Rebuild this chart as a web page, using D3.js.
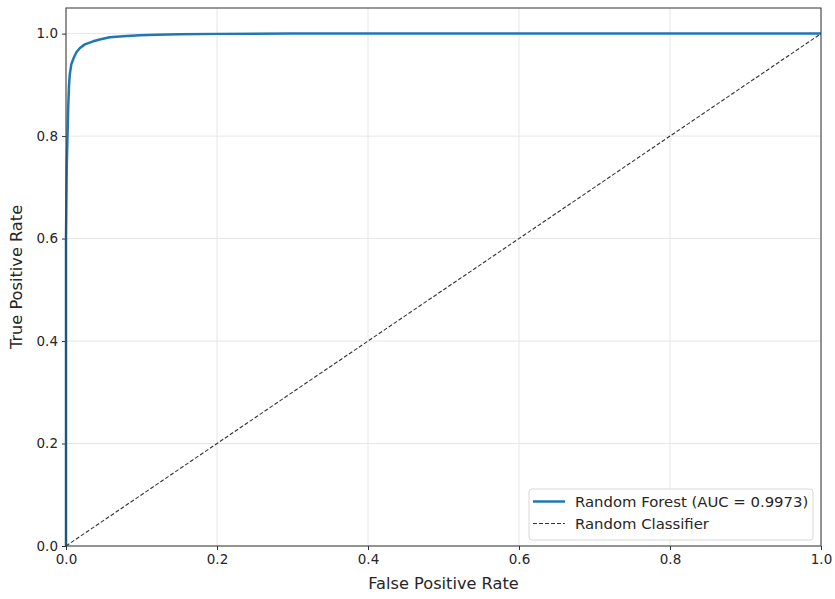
<!DOCTYPE html>
<html>
<head>
<meta charset="utf-8">
<script src="https://cdn.jsdelivr.net/npm/d3@7"></script>
<style>
  body { margin: 0; background: #fff; }
  svg text { font-family: "DejaVu Sans", sans-serif; fill: #262626; }
</style>
</head>
<body>
<div id="chart"></div>
<script>
// ROC curve points
const fprValues = [0, 0, 0.001, 0.002, 0.003, 0.004, 0.005, 0.007, 0.010, 0.014, 0.0185, 0.025, 0.036, 0.046, 0.058, 0.075, 0.098, 0.12, 0.15, 0.2, 0.3, 0.5, 0.8, 1.0];
const tprValues = [0, 0.60, 0.74, 0.80, 0.86, 0.90, 0.92, 0.94, 0.952, 0.964, 0.972, 0.979, 0.985, 0.989, 0.993, 0.995, 0.997, 0.998, 0.999, 0.9995, 1.0, 1.0, 1.0, 1.0];
const diagonal = [[0, 0], [1, 1]];
const ticks = [0, 0.2, 0.4, 0.6, 0.8, 1.0];
const legendItems = [
  { label: 'Random Forest (AUC = 0.9973)', color: '#1f77b4', width: 2.5, dash: null },
  { label: 'Random Classifier', color: '#333', width: 1.1, dash: '4,2' }
];

const width = 835, height = 599;
const margin = { top: 8, right: 14, bottom: 53, left: 66 };

const svg = d3.select('#chart').append('svg')
  .attr('width', width)
  .attr('height', height);

const x = d3.scaleLinear().domain([0, 1]).range([margin.left, width - margin.right]);
const y = d3.scaleLinear().domain([0, 1.05]).range([height - margin.bottom, margin.top]);

// grid
svg.append('g').selectAll('line.vg').data(ticks).enter().append('line')
  .attr('x1', d => x(d)).attr('x2', d => x(d))
  .attr('y1', y(0)).attr('y2', y(1.05))
  .attr('stroke', '#e6e6e6').attr('stroke-width', 1);
svg.append('g').selectAll('line.hg').data(ticks).enter().append('line')
  .attr('y1', d => y(d)).attr('y2', d => y(d))
  .attr('x1', x(0)).attr('x2', x(1))
  .attr('stroke', '#e6e6e6').attr('stroke-width', 1);

// axes
const xAxis = svg.append('g')
  .attr('transform', `translate(0, ${y(0)})`)
  .call(d3.axisBottom(x).tickValues(ticks).tickFormat(d3.format('.1f')).tickSizeOuter(0).tickSize(4).tickPadding(4));
const yAxis = svg.append('g')
  .attr('transform', `translate(${x(0)}, 0)`)
  .call(d3.axisLeft(y).tickValues(ticks).tickFormat(d3.format('.1f')).tickSizeOuter(0).tickSize(4).tickPadding(4));
[xAxis, yAxis].forEach(a => {
  a.select('.domain').remove();
  a.selectAll('line').attr('stroke', '#333');
  a.selectAll('text').style('font-size', '13.5px').attr('fill', '#262626');
});

const line = d3.line().x(d => x(d[0])).y(d => y(d[1]));

svg.append('path')
  .datum(diagonal)
  .attr('d', line)
  .attr('fill', 'none')
  .attr('stroke', '#333')
  .attr('stroke-width', 1.1)
  .attr('stroke-dasharray', '4,2');

svg.append('path')
  .datum(fprValues.map((f, i) => [f, tprValues[i]]))
  .attr('d', line.curve(d3.curveLinear))
  .attr('fill', 'none')
  .attr('stroke', '#1f77b4')
  .attr('stroke-width', 2.5)
  .attr('stroke-linejoin', 'round');

// frame
svg.append('rect')
  .attr('x', x(0)).attr('y', y(1.05))
  .attr('width', x(1) - x(0)).attr('height', y(0) - y(1.05))
  .attr('fill', 'none').attr('stroke', '#333').attr('stroke-width', 1);

// axis labels
svg.append('text')
  .attr('x', (x(0) + x(1)) / 2).attr('y', 589)
  .attr('text-anchor', 'middle')
  .style('font-size', '16.2px')
  .text('False Positive Rate');
svg.append('text')
  .attr('transform', `translate(22, ${(y(0) + y(1.05)) / 2}) rotate(-90)`)
  .attr('text-anchor', 'middle')
  .style('font-size', '16.2px')
  .text('True Positive Rate');

// legend
const legend = svg.append('g').attr('transform', 'translate(529, 489)');
legend.append('rect')
  .attr('width', 284).attr('height', 51).attr('rx', 3)
  .attr('fill', '#fff').attr('fill-opacity', 0.85)
  .attr('stroke', '#d8d8d8');
legendItems.forEach((item, i) => {
  const g = legend.append('g').attr('transform', `translate(0, ${12.5 + i * 22})`);
  g.append('line')
    .attr('x1', 4).attr('x2', 36)
    .attr('stroke', item.color).attr('stroke-width', item.width)
    .attr('stroke-dasharray', item.dash);
  g.append('text')
    .attr('x', 46).attr('y', 5.3)
    .style('font-size', '14.85px')
    .text(item.label);
});
</script>
</body>
</html>
